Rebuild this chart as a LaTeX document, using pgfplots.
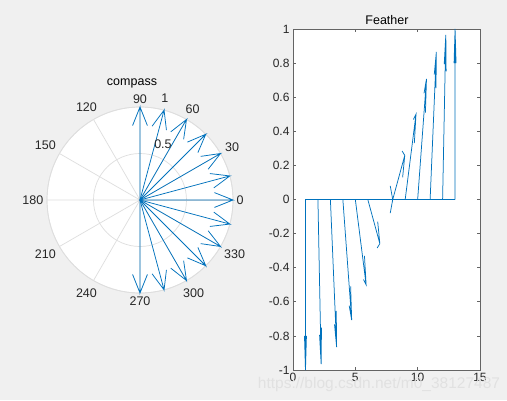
\documentclass[border=0pt]{standalone}
\usepackage{pgfplots}
\pgfplotsset{compat=1.18}
\usepgfplotslibrary{polar}
\usepackage{fontspec}
\setmainfont{Liberation Sans}
\definecolor{mblue}{RGB}{0,114,189}
\definecolor{bgc}{RGB}{240,240,240}
\definecolor{tk}{RGB}{38,38,38}
\definecolor{gridc}{RGB}{222,222,222}
\definecolor{boxc}{RGB}{100,100,100}
\definecolor{wm}{RGB}{225,225,225}
\tikzset{arr/.style={mblue, line width=0.75pt, solid, mark=none}}
\begin{document}
\begin{tikzpicture}[x=1pt,y=1pt]
\fill[bgc] (0,0) rectangle (507,400);
\path[use as bounding box] (0,0) rectangle (507,400);
% ---------------- compass ----------------
\begin{polaraxis}[
  at={(140pt,200pt)}, anchor=center,
  scale only axis, width=186pt, height=186pt,
  ymin=0, ymax=1,
  xtick={0,30,...,330},
  xticklabels={0,30,60,90,120,150,180,210,240,270,300,330},
  ytick={0.5,1}, yticklabels={{},{}},
  grid=major,
  major grid style={gridc, line width=0.7pt},
  axis line style={gridc, line width=0.7pt},
  major tick length=0pt,
  axis background/.style={fill=white},
  tick label style={font=\fontsize{12.5}{12.5}\selectfont, text=tk},
  xticklabel style={inner sep=3.5pt},
  clip=false,
]
\addplot[arr, data cs=cart] coordinates {(0,0)(0,-1)(0.08,-0.8)(0,-1)(-0.08,-0.8)};
\addplot[arr, data cs=cart] coordinates {(0,0)(0.2588,-0.9659)(0.2843,-0.7520)(0.2588,-0.9659)(0.1297,-0.7934)};
\addplot[arr, data cs=cart] coordinates {(0,0)(0.5,-0.8660)(0.4693,-0.6528)(0.5,-0.8660)(0.3307,-0.7328)};
\addplot[arr, data cs=cart] coordinates {(0,0)(0.7071,-0.7071)(0.6223,-0.5091)(0.7071,-0.7071)(0.5091,-0.6223)};
\addplot[arr, data cs=cart] coordinates {(0,0)(0.8660,-0.5)(0.7328,-0.3307)(0.8660,-0.5)(0.6528,-0.4693)};
\addplot[arr, data cs=cart] coordinates {(0,0)(0.9659,-0.2588)(0.7934,-0.1297)(0.9659,-0.2588)(0.7520,-0.2843)};
\addplot[arr, data cs=cart] coordinates {(0,0)(1,0)(0.8,0.08)(1,0)(0.8,-0.08)};
\addplot[arr, data cs=cart] coordinates {(0,0)(0.9659,0.2588)(0.7520,0.2843)(0.9659,0.2588)(0.7934,0.1297)};
\addplot[arr, data cs=cart] coordinates {(0,0)(0.8660,0.5)(0.6528,0.4693)(0.8660,0.5)(0.7328,0.3307)};
\addplot[arr, data cs=cart] coordinates {(0,0)(0.7071,0.7071)(0.5091,0.6223)(0.7071,0.7071)(0.6223,0.5091)};
\addplot[arr, data cs=cart] coordinates {(0,0)(0.5,0.8660)(0.3307,0.7328)(0.5,0.8660)(0.4693,0.6528)};
\addplot[arr, data cs=cart] coordinates {(0,0)(0.2588,0.9659)(0.1297,0.7934)(0.2588,0.9659)(0.2843,0.7520)};
\addplot[arr, data cs=cart] coordinates {(0,0)(0,1)(-0.08,0.8)(0,1)(0.08,0.8)};
\node[anchor=south west, inner sep=1pt, xshift=5pt, yshift=4pt, text=tk, font=\fontsize{12.5}{12.5}\selectfont] at (axis cs:80,0.5) {0.5};
\node[anchor=south west, inner sep=1pt, xshift=4pt, yshift=5pt, text=tk, font=\fontsize{12.5}{12.5}\selectfont] at (axis cs:80,1) {1};
\end{polaraxis}
\node[text=black, font=\fontsize{12.5}{12.5}\selectfont] at (132,317) {compass};
% ---------------- feather ----------------
\begin{axis}[
  at={(293pt,30pt)}, anchor=south west,
  scale only axis, width=187pt, height=341pt,
  xmin=0, xmax=15, ymin=-1, ymax=1,
  xtick={0,5,10,15},
  ytick={-1,-0.8,-0.6,-0.4,-0.2,0,0.2,0.4,0.6,0.8,1},
  yticklabels={-1,-0.8,-0.6,-0.4,-0.2,0,0.2,0.4,0.6,0.8,1},
  /pgf/number format/assume math mode=true,
  tick align=inside, major tick length=3pt,
  axis line style={boxc, line width=0.7pt},
  tick style={boxc, line width=0.7pt},
  axis background/.style={fill=white},
  tick label style={font=\fontsize{12}{12}\selectfont, text=tk},
  clip=false,
]
\addplot[arr] coordinates {(1,0)(13,0)};
\addplot[arr] coordinates {(1,0)(1,-1)(1.08,-0.8)(1,-1)(0.92,-0.8)};
\addplot[arr] coordinates {(2,0)(2.2588,-0.9659)(2.2843,-0.7520)(2.2588,-0.9659)(2.1297,-0.7934)};
\addplot[arr] coordinates {(3,0)(3.5,-0.8660)(3.4693,-0.6528)(3.5,-0.8660)(3.3307,-0.7328)};
\addplot[arr] coordinates {(4,0)(4.7071,-0.7071)(4.6223,-0.5091)(4.7071,-0.7071)(4.5091,-0.6223)};
\addplot[arr] coordinates {(5,0)(5.8660,-0.5)(5.7328,-0.3307)(5.8660,-0.5)(5.6528,-0.4693)};
\addplot[arr] coordinates {(6,0)(6.9659,-0.2588)(6.7934,-0.1297)(6.9659,-0.2588)(6.7520,-0.2843)};
\addplot[arr] coordinates {(7,0)(8,0)(7.8,0.08)(8,0)(7.8,-0.08)};
\addplot[arr] coordinates {(8,0)(8.9659,0.2588)(8.7520,0.2843)(8.9659,0.2588)(8.7934,0.1297)};
\addplot[arr] coordinates {(9,0)(9.8660,0.5)(9.6528,0.4693)(9.8660,0.5)(9.7328,0.3307)};
\addplot[arr] coordinates {(10,0)(10.7071,0.7071)(10.5091,0.6223)(10.7071,0.7071)(10.6223,0.5091)};
\addplot[arr] coordinates {(11,0)(11.5,0.8660)(11.3307,0.7328)(11.5,0.8660)(11.4693,0.6528)};
\addplot[arr] coordinates {(12,0)(12.2588,0.9659)(12.1297,0.7934)(12.2588,0.9659)(12.2843,0.7520)};
\addplot[arr] coordinates {(13,0)(13,1)(12.92,0.8)(13,1)(13.08,0.8)};
\end{axis}
\node[text=black, font=\fontsize{12.5}{12.5}\selectfont] at (387,380) {Feather};
\node[text=wm, font=\fontsize{15.5}{15.5}\selectfont] at (379,16) {https://blog.csdn.net/m0\_38127487};
\end{tikzpicture}
\end{document}
